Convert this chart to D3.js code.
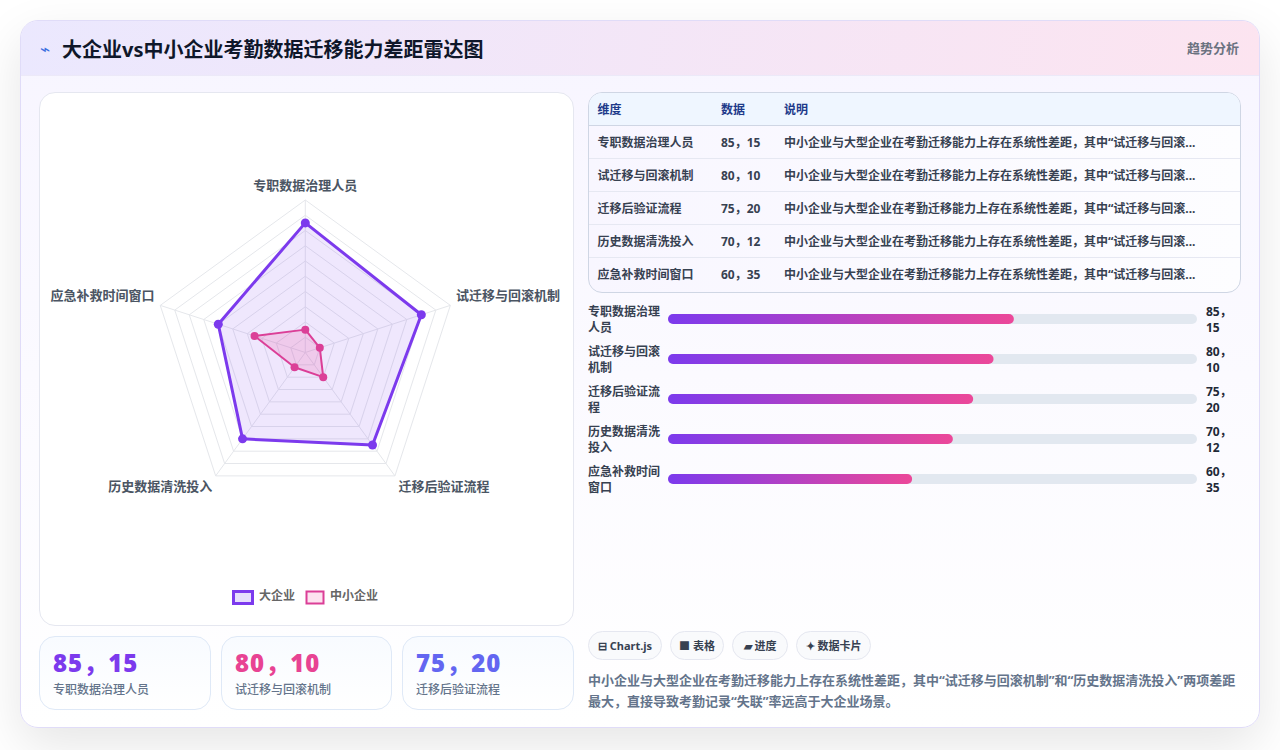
<!DOCTYPE html>
<html lang="zh-CN">
<head>
<meta charset="utf-8">
<title>大企业vs中小企业考勤数据迁移能力差距雷达图</title>
<script src="https://cdn.jsdelivr.net/npm/d3@7"></script>
<style>
  * { box-sizing: border-box; }
  html, body { margin: 0; width: 1280px; height: 750px; overflow: hidden; background: #fff; }
  body { font-family: "Noto Sans", "Noto Sans CJK SC", sans-serif; position: relative; }
  .abs { position: absolute; }
  .card { left: 20px; top: 20px; width: 1240px; height: 708px; border-radius: 18px; border: 1px solid #e0dcf8;
    background: linear-gradient(180deg, #f7f5ff 0%, #fff 100%); box-shadow: 0 18px 50px rgba(0,0,0,.1); overflow: hidden; }
  .header { left: 0; top: 0; width: 100%; height: 55px; background: linear-gradient(100deg, #ebe8fe, #fce4f0); border-bottom: 1px solid #ece9f8; }
  .title { left: 41px; top: 15px; font-size: 20px; font-weight: 700; color: #0f172a; line-height: 28px; white-space: nowrap; }
  .icon { left: 19px; top: 17px; font-size: 17px; color: #3b6fe0; line-height: 22px; }
  .sub { right: 20px; top: 17px; font-size: 13px; font-weight: 700; color: #6b7280; line-height: 20px; }
  .panel { left: 39px; top: 92px; width: 535px; height: 534px; background: #fff; border: 1px solid #e5e7f0; border-radius: 16px; }
  svg text { font-family: "Noto Sans", "Noto Sans CJK SC", sans-serif; }
  .tbl { left: 588px; top: 92px; width: 653px; height: 201px; border: 1px solid #cfd6e4; border-radius: 14px; overflow: hidden; background: linear-gradient(90deg,#f8f6ff,#fdfdff); }
  .row { position: absolute; left: 0; width: 100%; height: 33px; border-bottom: 1px solid #e6e8f2; font-size: 12px; font-weight: 700; color: #374151; line-height: 33px; white-space: nowrap; }
  .row.head { background: #eff6ff; color: #1e3a8a; font-weight: 700; border-bottom: 1px solid #cfd6e4; }
  .row span { position: absolute; top: 0; }
  .bar-label { left: 588px; width: 76px; font-size: 12px; font-weight: 700; line-height: 16px; color: #374151; }
  .bar-val { left: 1206px; width: 30px; font-size: 12px; font-weight: 700; line-height: 16px; color: #1f2937; }
  .stat { top: 636px; height: 74px; border: 1px solid #dfe9f7; border-radius: 16px; background: linear-gradient(180deg,#f8fbff,#fff); }
  .stat .num { position: absolute; left: 13px; top: 11px; font-size: 24px; font-weight: 900; line-height: 30px; letter-spacing: 1px; white-space: nowrap; }
  .stat .lab { position: absolute; left: 13px; top: 45px; font-size: 12px; font-weight: 500; color: #64748b; line-height: 16px; }
  .tag { top: 631px; height: 29px; border: 1px solid #e5e7f0; border-radius: 15px; background: #f9fafc; font-size: 11px; font-weight: 700; color: #374151; line-height: 27px; text-align: center; white-space: nowrap; }
  .desc { left: 588px; top: 670px; width: 654px; font-size: 13px; font-weight: 700; color: #64748b; line-height: 21px; }
</style>
</head>
<body>
<script>
const categories = ['专职数据治理人员', '试迁移与回滚机制', '迁移后验证流程', '历史数据清洗投入', '应急补救时间窗口'];
const bigValues = [85, 80, 75, 70, 60];
const smallValues = [15, 10, 20, 12, 35];
const seriesNames = ['大企业', '中小企业'];
const radarTicks = [10, 20, 30, 40, 50, 60, 70, 80, 90, 100];
const tableHead = ['维度', '数据', '说明'];
const tableNote = '中小企业与大型企业在考勤迁移能力上存在系统性差距，其中“试迁移与回滚...';
const tagLabels = ['⊟ Chart.js', '■ 表格', '▰ 进度', '✦ 数据卡片'];
const statColors = ['#7c3aed', '#e84393', '#6366f1'];
const description = '中小企业与大型企业在考勤迁移能力上存在系统性差距，其中“试迁移与回滚机制”和“历史数据清洗投入”两项差距最大，直接导致考勤记录“失联”率远高于大企业场景。';
const pairs = categories.map((c, i) => `${bigValues[i]}，${smallValues[i]}`);

const body = d3.select('body');

// card + header
const card = body.append('div').attr('class', 'abs card');
const header = card.append('div').attr('class', 'abs header');
header.append('div').attr('class', 'abs icon').text('⌁');
header.append('div').attr('class', 'abs title').text('大企业vs中小企业考勤数据迁移能力差距雷达图');
header.append('div').attr('class', 'abs sub').text('趋势分析');

body.append('div').attr('class', 'abs panel');

// radar
const svg = body.append('svg').attr('class', 'abs').attr('width', 1280).attr('height', 750).style('left', 0).style('top', 0);
const R = 152.5, cx = 305.3, cy = 352.5;
const rScale = d3.scaleLinear().domain([0, 100]).range([0, R]);
const angle = d3.scalePoint().domain(d3.range(categories.length)).range([0, 2 * Math.PI * 4 / 5]);
const polar = (v, i) => d3.pointRadial(angle(i), rScale(v));
const radarLine = d3.lineRadial().angle((d, i) => angle(i)).radius(d => rScale(d)).curve(d3.curveLinearClosed);
const radar = svg.append('g').attr('transform', `translate(${cx},${cy})`);

radar.selectAll('path.ring').data(radarTicks).join('path')
  .attr('class', 'ring')
  .attr('d', t => radarLine(categories.map(() => t)))
  .attr('fill', 'none').attr('stroke', '#e5e7eb').attr('stroke-width', 1);
radar.selectAll('line.spoke').data(categories).join('line')
  .attr('class', 'spoke')
  .attr('x2', (d, i) => polar(100, i)[0]).attr('y2', (d, i) => polar(100, i)[1])
  .attr('stroke', '#e5e7eb').attr('stroke-width', 1);

const series = [
  { values: bigValues, color: '#7c3aed', fill: 'rgba(124,58,237,.12)', width: 3, r: 4.5 },
  { values: smallValues, color: '#db3f97', fill: 'rgba(236,72,153,.18)', width: 2, r: 4 }
];
series.forEach(s => {
  radar.append('path').attr('d', radarLine(s.values))
    .attr('fill', s.fill).attr('stroke', s.color).attr('stroke-width', s.width).attr('stroke-linejoin', 'round');
  radar.selectAll(null).data(s.values).join('circle')
    .attr('cx', (d, i) => polar(d, i)[0]).attr('cy', (d, i) => polar(d, i)[1])
    .attr('r', s.r).attr('fill', s.color);
});

radar.selectAll('text.axis-label').data(categories).join('text')
  .attr('class', 'axis-label')
  .attr('x', (d, i) => d3.pointRadial(angle(i), R + 6)[0])
  .attr('y', (d, i) => d3.pointRadial(angle(i), R + 6)[1] + (Math.cos(angle(i)) > 0 ? -7.5 : 7))
  .attr('dominant-baseline', 'middle')
  .attr('text-anchor', (d, i) => Math.abs(Math.sin(angle(i))) < 0.01 ? 'middle' : (Math.sin(angle(i)) > 0 ? 'start' : 'end'))
  .attr('font-size', 13).attr('font-weight', 700).attr('fill', '#4b5563')
  .text(d => d);

// legend
const legend = svg.append('g');
const legendX = [232, 305];
const legendFill = ['#e6defc', '#fde3f0'];
const legendGap = [27, 25];
seriesNames.forEach((name, i) => {
  const g = legend.append('g').attr('transform', `translate(${legendX[i]},590)`);
  g.append('rect').attr('x', 1.5).attr('y', 1.5).attr('width', i ? 17 : 19).attr('height', 12)
    .attr('fill', legendFill[i]).attr('stroke', series[i].color).attr('stroke-width', i ? 2 : 3);
  g.append('text').attr('x', legendGap[i]).attr('y', 6.5).attr('dominant-baseline', 'middle')
    .attr('font-size', 12).attr('font-weight', 700).attr('fill', '#666').text(name);
});

// table
const tbl = body.append('div').attr('class', 'abs tbl');
const colX = [8.5, 132, 195];
const tableRows = [tableHead].concat(categories.map((c, i) => [c, pairs[i], tableNote]));
tbl.selectAll('.row').data(tableRows).join('div')
  .attr('class', (d, i) => i ? 'row' : 'row head')
  .style('top', (d, i) => `${i * 33}px`)
  .style('border-bottom-width', (d, i) => i === 5 ? '0' : '1px')
  .selectAll('span').data(d => d).join('span')
  .style('left', (d, i) => `${colX[i]}px`)
  .text(d => d);

// progress bars
const barX = d3.scaleLinear().domain([0, 130]).range([668, 1197]);
const barY = d3.scaleBand().domain(categories).range([299, 499]);
const grad = svg.append('defs').append('linearGradient').attr('id', 'barGrad');
grad.append('stop').attr('offset', 0).attr('stop-color', '#7c3aed');
grad.append('stop').attr('offset', 1).attr('stop-color', '#ec4899');
const bars = svg.append('g');
bars.selectAll('rect.track').data(categories).join('rect')
  .attr('class', 'track')
  .attr('x', barX(0)).attr('width', barX(130) - barX(0))
  .attr('y', d => barY(d) + 15).attr('height', 10).attr('rx', 5).attr('fill', '#e2e8f0');
bars.selectAll('rect.fill').data(bigValues).join('rect')
  .attr('class', 'fill')
  .attr('x', barX(0)).attr('width', d => barX(d) - barX(0))
  .attr('y', (d, i) => barY(categories[i]) + 15).attr('height', 10).attr('rx', 5).attr('fill', 'url(#barGrad)');
body.selectAll('.bar-label').data(categories).join('div')
  .attr('class', 'abs bar-label').style('top', d => `${barY(d) + 5}px`).text(d => d);
body.selectAll('.bar-val').data(pairs).join('div')
  .attr('class', 'abs bar-val').style('top', (d, i) => `${barY(categories[i]) + 5}px`).text(d => d);

// stat cards
const statLeft = [39, 221, 402];
const statWidth = [172, 171, 172];
const stats = body.selectAll('.stat').data([0, 1, 2]).join('div')
  .attr('class', 'abs stat')
  .style('left', d => `${statLeft[d]}px`)
  .style('width', d => `${statWidth[d]}px`);
stats.append('div').attr('class', 'num').style('color', d => statColors[d]).text(d => pairs[d]);
stats.append('div').attr('class', 'lab').text(d => categories[d]);

// tags
const tagLeft = [588, 670, 732, 796];
const tagWidth = [74, 54, 56, 75];
body.selectAll('.tag').data(tagLabels).join('div')
  .attr('class', 'abs tag')
  .style('left', (d, i) => `${tagLeft[i]}px`)
  .style('width', (d, i) => `${tagWidth[i]}px`)
  .text(d => d);

body.append('div').attr('class', 'abs desc').text(description);
</script>
</body>
</html>
